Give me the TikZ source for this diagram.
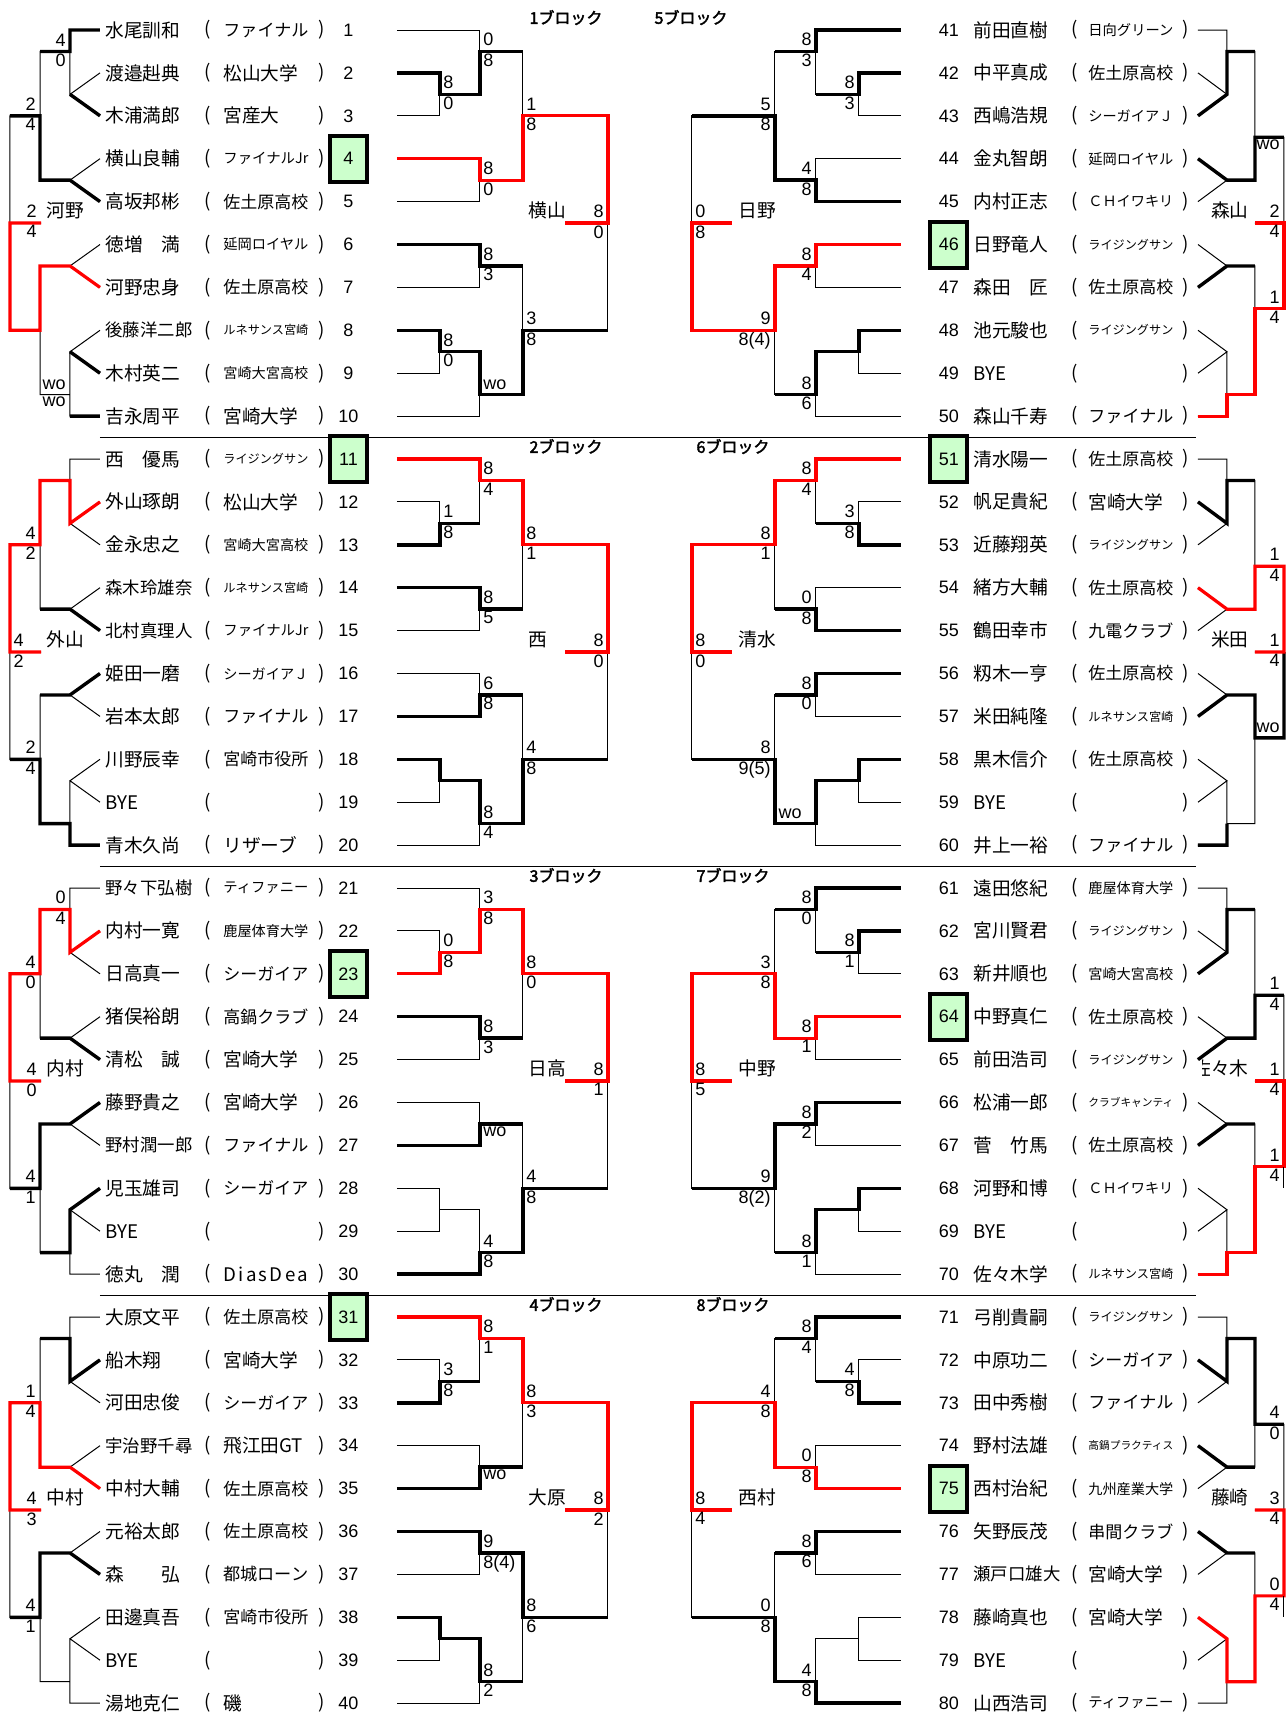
\documentclass[tikz,border=0pt]{standalone}
\usepackage{fontspec}
\setmainfont{Liberation Sans}
\newfontfamily\jp{Noto Sans CJK JP}
\newfontfamily\jpbold{Noto Sans CJK JP}[FakeBold=2.5]
\usepackage{graphicx}
\definecolor{seedgreen}{HTML}{CCFFCC}

\newsavebox{\fitbox}
\newcommand{\fitto}[2]{\sbox{\fitbox}{#2}%
  \ifdim\wd\fitbox>#1\relax\resizebox{#1}{!}{\usebox{\fitbox}}\else\usebox{\fitbox}\fi}

% player rows: [number style]{local row}{number}{name}{club}
\newcommand{\lplayer}[5][num node]{%
  \node[name node] (n#3) at (105,#2) {\fitto{43.5pt}{#4}};
  \node[paren node] (o#3) at (208,#2) {(};
  \node[club node] (c#3) at (223,#2) {\fitto{42.5pt}{#5}};
  \node[paren node] (e#3) at (322,#2) {)};
  \node[#1] (p#3) at (348.5,#2) {#3};}
\newcommand{\rplayer}[5][num node]{%
  \node[#1] (p#3) at (949,#2) {#3};
  \node[name node] (n#3) at (973,#2) {\fitto{43.5pt}{#4}};
  \node[paren node] (o#3) at (1075,#2) {(};
  \node[club node] (c#3) at (1088,#2) {\fitto{42.5pt}{#5}};
  \node[paren node] (e#3) at (1186,#2) {)};}

% scores: {name}{x of line}{row of junction}{upper}{lower}
\newcommand{\scoreR}[5]{%
  \node[score node,anchor=south west,inner ysep=2.5pt] (#1u) at (#2+1,#3) {#4};
  \node[score node,anchor=north west,inner ysep=1pt] (#1l) at (#2+1,#3) {#5};}
\newcommand{\scoreL}[5]{%
  \node[score node,anchor=south east,inner ysep=2.5pt] (#1u) at (#2-2,#3) {#4};
  \node[score node,anchor=north east,inner ysep=1pt] (#1l) at (#2-2,#3) {#5};}

% empty brackets of one block (rows 1-10)
\newcommand{\lefttree}{%
  \draw[loss line] (100,1) -- (70,1) -- (70,2.5) -- (100,2) (70,2.5) -- (100,3)
    (70,1.5) -- (40,1.5) -- (40,4.5) -- (70,4.5) -- (100,4) (70,4.5) -- (100,5)
    (40,3) -- (10,3) -- (10,8) -- (40,8) (10,5.5) -- (41,5.5)
    (100,6) -- (70,6.5) -- (100,7) (70,6.5) -- (40,6.5) -- (40,9.5) -- (70,9.5)
    (100,8) -- (70,8.5) -- (100,9) (70,8.5) -- (70,10) -- (100,10);}
\newcommand{\leftcenter}{%
  \draw[loss line] (397,1) -- (480,1) -- (480,2.5) -- (440,2.5)
    (397,2) -- (440,2) -- (440,3) -- (397,3)
    (480,1.5) -- (523,1.5) -- (523,4.5) -- (480,4.5)
    (397,4) -- (480,4) -- (480,5) -- (397,5)
    (523,3) -- (608,3) -- (608,8) -- (523,8) (608,5.5) -- (565,5.5)
    (397,6) -- (480,6) -- (480,7) -- (397,7)
    (480,6.5) -- (523,6.5) -- (523,9.5) -- (480,9.5)
    (397,8) -- (440,8) -- (440,9) -- (397,9)
    (440,8.5) -- (480,8.5) -- (480,10) -- (397,10);}
\newcommand{\rightcenter}{%
  \draw[loss line] (901,1) -- (816,1) -- (816,2.5) -- (859,2.5)
    (901,2) -- (859,2) -- (859,3) -- (901,3)
    (816,1.5) -- (775,1.5) -- (775,4.5) -- (816,4.5)
    (901,4) -- (816,4) -- (816,5) -- (901,5)
    (775,3) -- (692,3) -- (692,8) -- (775,8) (692,5.5) -- (732,5.5)
    (901,6) -- (816,6) -- (816,7) -- (901,7)
    (816,6.5) -- (775,6.5) -- (775,9.5) -- (816,9.5)
    (901,8) -- (859,8) -- (859,9) -- (901,9)
    (859,8.5) -- (816,8.5) -- (816,10) -- (901,10);}
\newcommand{\righttree}{%
  \draw[loss line] (1198,1) -- (1227,1) -- (1227,2.5) -- (1198,2) (1227,2.5) -- (1198,3)
    (1227,1.5) -- (1255,1.5) -- (1255,4.5) -- (1227,4.5) -- (1198,4) (1227,4.5) -- (1198,5)
    (1255,3.5) -- (1284,3.5) -- (1284,7.5) -- (1255,7.5) (1284,5.5) -- (1255,5.5)
    (1198,6) -- (1227,6.5) -- (1198,7) (1227,6.5) -- (1255,6.5) -- (1255,9.5) -- (1227,9.5)
    (1198,8) -- (1227,8.5) -- (1198,9) (1227,8.5) -- (1227,10) -- (1198,10);}

\begin{document}
\begin{tikzpicture}[x=0.5pt,y=-21.45pt,
    loss line/.style={line width=0.5pt},
    win line/.style={line width=1.7pt},
    champ line/.style={red,line width=1.6pt},
    name node/.style={anchor=west,inner sep=0pt,font=\jp\fontsize{9.35}{11}\selectfont},
    club node/.style={name node},
    paren node/.style={inner sep=0pt,font=\jp\fontsize{9.35}{11}\selectfont},
    num node/.style={inner sep=0pt,font=\fontsize{9}{11}\selectfont},
    seed node/.style={num node,draw,line width=2pt,fill=seedgreen,minimum width=18.5pt,minimum height=23pt},
    score node/.style={inner xsep=1pt,font=\fontsize{9}{11}\selectfont},
    winner node/.style={inner xsep=1pt,inner ysep=2pt,font=\jp\fontsize{9.35}{11}\selectfont},
    block title/.style={inner sep=0pt,font=\jpbold\fontsize{8}{10}\selectfont}]
  \useasboundingbox (0,0.3007) rectangle (1287,40.371);

  % block separators
  \draw[loss line] (100,10.5) -- (1196,10.5) (100,20.5) -- (1196,20.5) (100,30.5) -- (1196,30.5);

  %%%%%%%%%%%% blocks 1 and 5
  \begin{scope}
    \lefttree \leftcenter \rightcenter \righttree
    \draw[win line] (100,1) -- (70,1) -- (70,1.5) -- (40,1.5) (70,2.5) -- (100,3)
      (100,5) -- (70,4.5) -- (40,4.5) -- (40,3) -- (10,3)
      (70,8.5) -- (100,9) (70,10) -- (100,10);
    \draw[champ line] (100,7) -- (70,6.5) -- (40,6.5) -- (40,8) -- (10,8) -- (10,5.5) -- (41,5.5);
    \draw[win line] (397,2) -- (440,2) -- (440,2.5) -- (480,2.5) -- (480,1.5) -- (523,1.5)
      (397,6) -- (480,6) -- (480,6.5) -- (523,6.5)
      (397,8) -- (440,8) -- (440,8.5) -- (480,8.5) -- (480,9.5) -- (523,9.5) -- (523,8) -- (608,8);
    \draw[champ line] (397,4) -- (480,4) -- (480,4.5) -- (523,4.5) -- (523,3) -- (608,3) -- (608,5.5) -- (565,5.5);
    \draw[win line] (901,1) -- (816,1) -- (816,1.5) -- (775,1.5)
      (901,2) -- (859,2) -- (859,2.5) -- (816,2.5)
      (901,5) -- (816,5) -- (816,4.5) -- (775,4.5) -- (775,3) -- (692,3)
      (901,8) -- (859,8) -- (859,8.5) -- (816,8.5) -- (816,9.5) -- (775,9.5);
    \draw[champ line] (901,6) -- (816,6) -- (816,6.5) -- (775,6.5) -- (775,8) -- (692,8) -- (692,5.5) -- (732,5.5);
    \draw[win line] (1198,3) -- (1227,2.5) -- (1227,1.5) -- (1255,1.5)
      (1198,4) -- (1227,4.5) -- (1255,4.5) -- (1255,3.5) -- (1284,3.5)
      (1198,7) -- (1227,6.5) -- (1255,6.5);
    \draw[champ line] (1198,10) -- (1227,10) -- (1227,9.5) -- (1255,9.5) -- (1255,7.5) -- (1284,7.5) -- (1284,5.5) -- (1255,5.5);

    \node[block title] (t1) at (566,0.71) {1ブロック};
    \node[block title] (t5) at (691,0.71) {5ブロック};

    \lplayer{1}{1}{水尾訓和}{ファイナル}
    \lplayer{2}{2}{渡邉赳典}{松山大学}
    \lplayer{3}{3}{木浦満郎}{宮産大}
    \lplayer[seed node]{4}{4}{横山良輔}{ファイナルJr}
    \lplayer{5}{5}{高坂邦彬}{佐土原高校}
    \lplayer{6}{6}{徳増　満}{延岡ロイヤル}
    \lplayer{7}{7}{河野忠身}{佐土原高校}
    \lplayer{8}{8}{後藤洋二郎}{ルネサンス宮崎}
    \lplayer{9}{9}{木村英二}{宮崎大宮高校}
    \lplayer{10}{10}{吉永周平}{宮崎大学}
    \rplayer{1}{41}{前田直樹}{日向グリーン}
    \rplayer{2}{42}{中平真成}{佐土原高校}
    \rplayer{3}{43}{西嶋浩規}{シーガイアＪ}
    \rplayer{4}{44}{金丸智朗}{延岡ロイヤル}
    \rplayer{5}{45}{内村正志}{ＣＨイワキリ}
    \rplayer[seed node]{6}{46}{日野竜人}{ライジングサン}
    \rplayer{7}{47}{森田　匠}{佐土原高校}
    \rplayer{8}{48}{池元駿也}{ライジングサン}
    \rplayer{9}{49}{BYE}{}
    \rplayer{10}{50}{森山千寿}{ファイナル}

    \scoreL{b1m2}{70}{1.5}{4}{0}
    \scoreL{b1m4}{40}{3}{2}{4}
    \scoreL{b1m7}{70}{9.5}{wo}{wo}
    \scoreL{b1fn}{41}{5.5}{2}{4}
    \node[winner node,anchor=south west] (v1) at (44,5.5) {河野};
    \scoreR{b1cA}{440}{2.5}{8}{0}
    \scoreR{b1cB}{480}{1.5}{0}{8}
    \scoreR{b1cC}{480}{4.5}{8}{0}
    \scoreR{b1cD}{523}{3}{1}{8}
    \scoreR{b1cE}{480}{6.5}{8}{3}
    \scoreR{b1cF}{440}{8.5}{8}{0}
    \scoreR{b1cG}{480}{9.5}{wo}{}
    \scoreR{b1cH}{523}{8}{3}{8}
    \scoreL{b1cX}{608}{5.5}{8}{0}
    \node[winner node,anchor=south west] (w1) at (526,5.5) {横山};
    \scoreL{b5rA}{859}{2.5}{8}{3}
    \scoreL{b5rB}{816}{1.5}{8}{3}
    \scoreL{b5rC}{816}{4.5}{4}{8}
    \scoreL{b5rD}{775}{3}{5}{8}
    \scoreL{b5rE}{816}{6.5}{8}{4}
    \scoreL{b5rG}{816}{9.5}{8}{6}
    \scoreL{b5rH}{775}{8}{9}{8(4)}
    \scoreR{b5rX}{692}{5.5}{0}{8}
    \node[winner node,anchor=south west] (w5) at (736,5.5) {日野};
    \scoreL{b5m4}{1284}{3.5}{}{wo}
    \scoreL{b5m8}{1284}{7.5}{1}{4}
    \scoreL{b5fn}{1284}{5.5}{2}{4}
    \node[winner node,anchor=south east] (v5) at (1251,5.5) {森山};
  \end{scope}

  %%%%%%%%%%%% blocks 2 and 6
  \begin{scope}[shift={(0,10)}]
    \lefttree \leftcenter \rightcenter \righttree
    \draw[champ line] (100,2) -- (70,2.5) -- (70,1.5) -- (40,1.5) -- (40,3) -- (10,3) -- (10,5.5) -- (41,5.5);
    \draw[win line] (100,5) -- (70,4.5) -- (40,4.5)
      (100,6) -- (70,6.5) -- (40,6.5)
      (100,10) -- (70,10) -- (70,9.5) -- (40,9.5) -- (40,8) -- (10,8);
    \draw[champ line] (397,1) -- (480,1) -- (480,1.5) -- (523,1.5) -- (523,3) -- (608,3) -- (608,5.5) -- (565,5.5);
    \draw[win line] (397,3) -- (440,3) -- (440,2.5) -- (480,2.5)
      (397,4) -- (480,4) -- (480,4.5) -- (523,4.5)
      (397,7) -- (480,7) -- (480,6.5) -- (523,6.5)
      (397,8) -- (440,8) -- (440,8.5) -- (480,8.5) -- (480,9.5) -- (523,9.5) -- (523,8) -- (608,8);
    \draw[champ line] (901,1) -- (816,1) -- (816,1.5) -- (775,1.5) -- (775,3) -- (692,3) -- (692,5.5) -- (732,5.5);
    \draw[win line] (901,3) -- (859,3) -- (859,2.5) -- (816,2.5)
      (901,5) -- (816,5) -- (816,4.5) -- (775,4.5)
      (901,6) -- (816,6) -- (816,6.5) -- (775,6.5)
      (901,8) -- (859,8) -- (859,8.5) -- (816,8.5) -- (816,9.5) -- (775,9.5) -- (775,8) -- (692,8);
    \draw[win line] (1198,2) -- (1227,2.5) -- (1227,1.5) -- (1255,1.5)
      (1198,7) -- (1227,6.5) -- (1255,6.5) -- (1255,7.5) -- (1284,7.5) -- (1284,5.5)
      (1198,10) -- (1227,10) -- (1227,9.5);
    \draw[champ line] (1198,4) -- (1227,4.5) -- (1255,4.5) -- (1255,3.5) -- (1284,3.5) -- (1284,5.5) -- (1255,5.5);

    \node[block title] (t2) at (566,0.71) {2ブロック};
    \node[block title] (t6) at (733,0.71) {6ブロック};

    \lplayer[seed node]{1}{11}{西　優馬}{ライジングサン}
    \lplayer{2}{12}{外山琢朗}{松山大学}
    \lplayer{3}{13}{金永忠之}{宮崎大宮高校}
    \lplayer{4}{14}{森木玲雄奈}{ルネサンス宮崎}
    \lplayer{5}{15}{北村真理人}{ファイナルJr}
    \lplayer{6}{16}{姫田一磨}{シーガイアＪ}
    \lplayer{7}{17}{岩本太郎}{ファイナル}
    \lplayer{8}{18}{川野辰幸}{宮崎市役所}
    \lplayer{9}{19}{BYE}{}
    \lplayer{10}{20}{青木久尚}{リザーブ}
    \rplayer[seed node]{1}{51}{清水陽一}{佐土原高校}
    \rplayer{2}{52}{帆足貴紀}{宮崎大学}
    \rplayer{3}{53}{近藤翔英}{ライジングサン}
    \rplayer{4}{54}{緒方大輔}{佐土原高校}
    \rplayer{5}{55}{鶴田幸市}{九電クラブ}
    \rplayer{6}{56}{籾木一亨}{佐土原高校}
    \rplayer{7}{57}{米田純隆}{ルネサンス宮崎}
    \rplayer{8}{58}{黒木信介}{佐土原高校}
    \rplayer{9}{59}{BYE}{}
    \rplayer{10}{60}{井上一裕}{ファイナル}

    \scoreL{b2m4}{40}{3}{4}{2}
    \scoreL{b2m8}{40}{8}{2}{4}
    \scoreL{b2fn}{28}{5.5}{4}{2}
    \node[winner node,anchor=south west] (v2) at (44,5.5) {外山};
    \scoreR{b2cA}{440}{2.5}{1}{8}
    \scoreR{b2cB}{480}{1.5}{8}{4}
    \scoreR{b2cC}{480}{4.5}{8}{5}
    \scoreR{b2cD}{523}{3}{8}{1}
    \scoreR{b2cE}{480}{6.5}{6}{8}
    \scoreR{b2cG}{480}{9.5}{8}{4}
    \scoreR{b2cH}{523}{8}{4}{8}
    \scoreL{b2cX}{608}{5.5}{8}{0}
    \node[winner node,anchor=south west] (w2) at (526,5.5) {西};
    \scoreL{b6rA}{859}{2.5}{3}{8}
    \scoreL{b6rB}{816}{1.5}{8}{4}
    \scoreL{b6rC}{816}{4.5}{0}{8}
    \scoreL{b6rD}{775}{3}{8}{1}
    \scoreL{b6rE}{816}{6.5}{8}{0}
    \scoreL{b6rG}{806}{9.5}{wo}{}
    \scoreL{b6rH}{775}{8}{8}{9(5)}
    \scoreR{b6rX}{692}{5.5}{8}{0}
    \node[winner node,anchor=south west] (w6) at (736,5.5) {清水};
    \scoreL{b6m4}{1284}{3.5}{1}{4}
    \scoreL{b6m8}{1284}{7.5}{wo}{}
    \scoreL{b6fn}{1284}{5.5}{1}{4}
    \node[winner node,anchor=south east] (v6) at (1251,5.5) {米田};
  \end{scope}

  %%%%%%%%%%%% blocks 3 and 7
  \begin{scope}[shift={(0,20)}]
    \lefttree \leftcenter \rightcenter \righttree
    \draw[champ line] (100,2) -- (70,2.5) -- (70,1.5) -- (40,1.5) -- (40,3) -- (10,3) -- (10,5.5) -- (41,5.5);
    \draw[win line] (100,5) -- (70,4.5) -- (40,4.5)
      (100,6) -- (70,6.5) -- (40,6.5) -- (40,8) -- (10,8)
      (100,8) -- (70,8.5) -- (70,9.5) -- (40,9.5);
    \draw[champ line] (397,3) -- (440,3) -- (440,2.5) -- (480,2.5) -- (480,1.5) -- (523,1.5) -- (523,3) -- (608,3) -- (608,5.5) -- (565,5.5);
    \draw[win line] (397,4) -- (480,4) -- (480,4.5) -- (523,4.5)
      (397,7) -- (480,7) -- (480,6.5) -- (523,6.5)
      (397,10) -- (480,10) -- (480,9.5) -- (523,9.5) -- (523,8) -- (608,8);
    \draw[win line] (901,1) -- (816,1) -- (816,1.5) -- (775,1.5)
      (901,2) -- (859,2) -- (859,2.5) -- (816,2.5)
      (901,6) -- (816,6) -- (816,6.5) -- (775,6.5) -- (775,8) -- (692,8)
      (901,8) -- (859,8) -- (859,8.5) -- (816,8.5) -- (816,9.5) -- (775,9.5);
    \draw[champ line] (901,4) -- (816,4) -- (816,4.5) -- (775,4.5) -- (775,3) -- (692,3) -- (692,5.5) -- (732,5.5);
    \draw[win line] (1198,3) -- (1227,2.5) -- (1227,1.5) -- (1255,1.5)
      (1198,5) -- (1227,4.5) -- (1255,4.5) -- (1255,3.5) -- (1284,3.5)
      (1198,7) -- (1227,6.5) -- (1255,6.5);
    \draw[champ line] (1198,10) -- (1227,10) -- (1227,9.5) -- (1255,9.5) -- (1255,7.5) -- (1284,7.5) -- (1284,5.5) -- (1255,5.5);
    \draw[loss line] (1284,7.5) -- (1284,8);

    \node[block title] (t3) at (566,0.71) {3ブロック};
    \node[block title] (t7) at (733,0.71) {7ブロック};

    \lplayer{1}{21}{野々下弘樹}{ティファニー}
    \lplayer{2}{22}{内村一寛}{鹿屋体育大学}
    \lplayer[seed node]{3}{23}{日高真一}{シーガイア}
    \lplayer{4}{24}{猪俣裕朗}{高鍋クラブ}
    \lplayer{5}{25}{清松　誠}{宮崎大学}
    \lplayer{6}{26}{藤野貴之}{宮崎大学}
    \lplayer{7}{27}{野村潤一郎}{ファイナル}
    \lplayer{8}{28}{児玉雄司}{シーガイア}
    \lplayer{9}{29}{BYE}{}
    \lplayer{10}{30}{徳丸　潤}{\makebox[42.5pt][s]{D\hfill i\hfill a\hfill s\hfill D\hfill e\hfill a}}
    \rplayer{1}{61}{遠田悠紀}{鹿屋体育大学}
    \rplayer{2}{62}{宮川賢君}{ライジングサン}
    \rplayer{3}{63}{新井順也}{宮崎大宮高校}
    \rplayer[seed node]{4}{64}{中野真仁}{佐土原高校}
    \rplayer{5}{65}{前田浩司}{ライジングサン}
    \rplayer{6}{66}{松浦一郎}{クラブキャンティ}
    \rplayer{7}{67}{菅　竹馬}{佐土原高校}
    \rplayer{8}{68}{河野和博}{ＣＨイワキリ}
    \rplayer{9}{69}{BYE}{}
    \rplayer{10}{70}{佐々木学}{ルネサンス宮崎}

    \scoreL{b3m2}{70}{1.5}{0}{4}
    \scoreL{b3m4}{40}{3}{4}{0}
    \scoreL{b3m8}{40}{8}{4}{1}
    \scoreL{b3fn}{41}{5.5}{4}{0}
    \node[winner node,anchor=south west] (v3) at (44,5.5) {内村};
    \scoreR{b3cA}{440}{2.5}{0}{8}
    \scoreR{b3cB}{480}{1.5}{3}{8}
    \scoreR{b3cC}{480}{4.5}{8}{3}
    \scoreR{b3cD}{523}{3}{8}{0}
    \scoreR{b3cE}{480}{6.5}{}{wo}
    \scoreR{b3cG}{480}{9.5}{4}{8}
    \scoreR{b3cH}{523}{8}{4}{8}
    \scoreL{b3cX}{608}{5.5}{8}{1}
    \node[winner node,anchor=south west] (w3) at (526,5.5) {日高};
    \scoreL{b7rA}{859}{2.5}{8}{1}
    \scoreL{b7rB}{816}{1.5}{8}{0}
    \scoreL{b7rC}{816}{4.5}{8}{1}
    \scoreL{b7rD}{775}{3}{3}{8}
    \scoreL{b7rE}{816}{6.5}{8}{2}
    \scoreL{b7rG}{816}{9.5}{8}{1}
    \scoreL{b7rH}{775}{8}{9}{8(2)}
    \scoreR{b7rX}{692}{5.5}{8}{5}
    \node[winner node,anchor=south west] (w7) at (736,5.5) {中野};
    \scoreL{b7m4}{1284}{3.5}{1}{4}
    \scoreL{b7m8}{1284}{7.5}{1}{4}
    \scoreL{b7fn}{1284}{5.5}{1}{4}
    \begin{scope}
      \clip (1203,4.4) rectangle (1262,5.5);
      \node[winner node,anchor=south east] (v7) at (1251,5.5) {佐々木};
    \end{scope}
  \end{scope}

  %%%%%%%%%%%% blocks 4 and 8
  \begin{scope}[shift={(0,30)}]
    \lefttree \leftcenter \rightcenter \righttree
    \draw[win line] (100,2) -- (70,2.5) -- (70,1.5) -- (40,1.5)
      (100,7) -- (70,6.5) -- (40,6.5) -- (40,8) -- (10,8);
    \draw[champ line] (100,5) -- (70,4.5) -- (40,4.5) -- (40,3) -- (10,3) -- (10,5.5) -- (41,5.5);
    \draw[champ line] (397,1) -- (480,1) -- (480,1.5) -- (523,1.5) -- (523,3) -- (608,3) -- (608,5.5) -- (565,5.5);
    \draw[win line] (397,3) -- (440,3) -- (440,2.5) -- (480,2.5)
      (397,5) -- (480,5) -- (480,4.5) -- (523,4.5)
      (397,6) -- (480,6) -- (480,6.5) -- (523,6.5) -- (523,8) -- (608,8)
      (397,8) -- (440,8) -- (440,8.5) -- (480,8.5) -- (480,9.5) -- (523,9.5);
    \draw[win line] (901,1) -- (816,1) -- (816,1.5) -- (775,1.5)
      (901,3) -- (859,3) -- (859,2.5) -- (816,2.5)
      (901,6) -- (816,6) -- (816,6.5) -- (775,6.5)
      (901,10) -- (816,10) -- (816,9.5) -- (775,9.5) -- (775,8) -- (692,8);
    \draw[champ line] (901,5) -- (816,5) -- (816,4.5) -- (775,4.5) -- (775,3) -- (692,3) -- (692,5.5) -- (732,5.5);
    \draw[win line] (1198,2) -- (1227,2.5) -- (1227,1.5) -- (1255,1.5) -- (1255,3.5) -- (1284,3.5)
      (1198,4) -- (1227,4.5) -- (1255,4.5)
      (1198,6) -- (1227,6.5) -- (1255,6.5);
    \draw[champ line] (1198,8) -- (1227,8.5) -- (1227,9.5) -- (1255,9.5) -- (1255,7.5) -- (1284,7.5) -- (1284,5.5) -- (1255,5.5);
    \draw[loss line] (1284,7.5) -- (1284,8);

    \node[block title] (t4) at (566,0.71) {4ブロック};
    \node[block title] (t8) at (733,0.71) {8ブロック};

    \lplayer[seed node]{1}{31}{大原文平}{佐土原高校}
    \lplayer{2}{32}{船木翔}{宮崎大学}
    \lplayer{3}{33}{河田忠俊}{シーガイア}
    \lplayer{4}{34}{宇治野千尋}{飛江田GT}
    \lplayer{5}{35}{中村大輔}{佐土原高校}
    \lplayer{6}{36}{元裕太郎}{佐土原高校}
    \lplayer{7}{37}{森　　弘}{都城ローン}
    \lplayer{8}{38}{田邊真吾}{宮崎市役所}
    \lplayer{9}{39}{BYE}{}
    \lplayer{10}{40}{湯地克仁}{磯}
    \rplayer{1}{71}{弓削貴嗣}{ライジングサン}
    \rplayer{2}{72}{中原功二}{シーガイア}
    \rplayer{3}{73}{田中秀樹}{ファイナル}
    \rplayer{4}{74}{野村法雄}{高鍋プラクティス}
    \rplayer[seed node]{5}{75}{西村治紀}{九州産業大学}
    \rplayer{6}{76}{矢野辰茂}{串間クラブ}
    \rplayer{7}{77}{瀬戸口雄大}{宮崎大学}
    \rplayer{8}{78}{藤崎真也}{宮崎大学}
    \rplayer{9}{79}{BYE}{}
    \rplayer{10}{80}{山西浩司}{ティファニー}

    \scoreL{b4m4}{40}{3}{1}{4}
    \scoreL{b4m8}{40}{8}{4}{1}
    \scoreL{b4fn}{41}{5.5}{4}{3}
    \node[winner node,anchor=south west] (v4) at (44,5.5) {中村};
    \scoreR{b4cA}{440}{2.5}{3}{8}
    \scoreR{b4cB}{480}{1.5}{8}{1}
    \scoreR{b4cC}{480}{4.5}{}{wo}
    \scoreR{b4cD}{523}{3}{8}{3}
    \scoreR{b4cE}{480}{6.5}{9}{8(4)}
    \scoreR{b4cG}{480}{9.5}{8}{2}
    \scoreR{b4cH}{523}{8}{8}{6}
    \scoreL{b4cX}{608}{5.5}{8}{2}
    \node[winner node,anchor=south west] (w4) at (526,5.5) {大原};
    \scoreL{b8rA}{859}{2.5}{4}{8}
    \scoreL{b8rB}{816}{1.5}{8}{4}
    \scoreL{b8rC}{816}{4.5}{0}{8}
    \scoreL{b8rD}{775}{3}{4}{8}
    \scoreL{b8rE}{816}{6.5}{8}{6}
    \scoreL{b8rG}{816}{9.5}{4}{8}
    \scoreL{b8rH}{775}{8}{0}{8}
    \scoreR{b8rX}{692}{5.5}{8}{4}
    \node[winner node,anchor=south west] (w8) at (736,5.5) {西村};
    \scoreL{b8m4}{1284}{3.5}{4}{0}
    \scoreL{b8m8}{1284}{7.5}{0}{4}
    \scoreL{b8fn}{1284}{5.5}{3}{4}
    \node[winner node,anchor=south east] (v8) at (1251,5.5) {藤崎};
  \end{scope}
\end{tikzpicture}
\end{document}
